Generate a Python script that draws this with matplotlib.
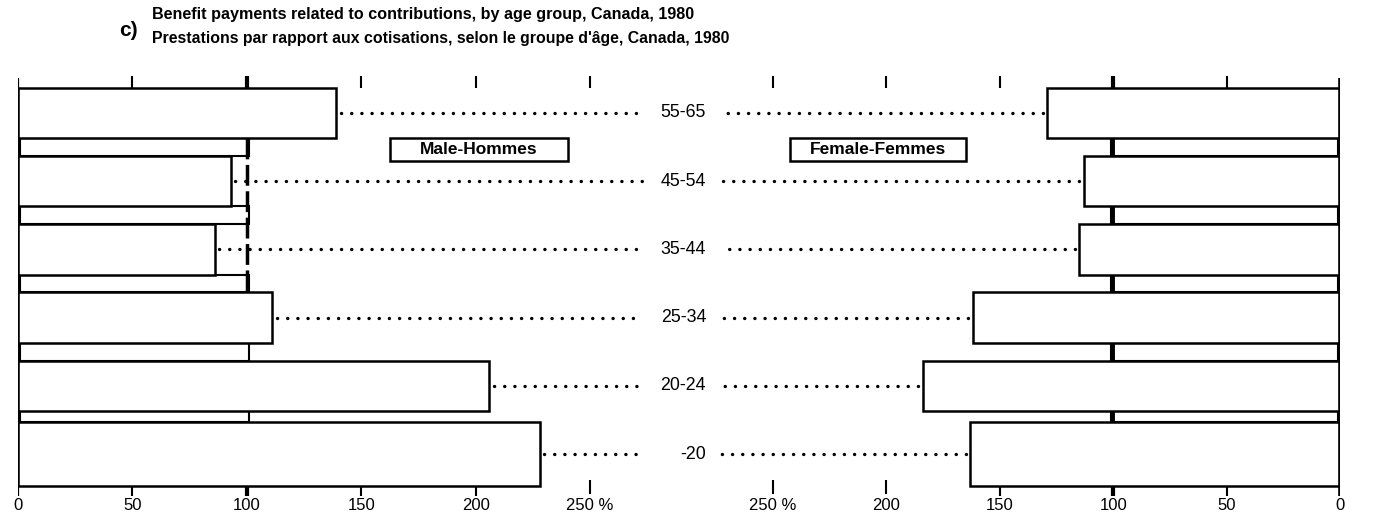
import matplotlib
matplotlib.use('Agg')
import matplotlib.pyplot as plt
from matplotlib.patches import Rectangle
import matplotlib.transforms as mtransforms

# ---- data ----
age_groups = ['55-65', '45-54', '35-44', '25-34', '20-24', '-20']
male = [139, 93, 86, 111, 206, 228]
female = [129, 113, 115, 162, 184, 163]
tick_values = [0, 50, 100, 150, 200, 250]
tick_labels = ['0', '50', '100', '150', '200', '250 %']
reference = 100
title_1 = 'Benefit payments related to contributions, by age group, Canada, 1980'
title_2 = "Prestations par rapport aux cotisations, selon le groupe d'âge, Canada, 1980"
male_label = 'Male-Hommes'
female_label = 'Female-Femmes'

plt.rcParams['font.family'] = ['Liberation Sans', 'DejaVu Sans']

W, H = 1379, 513
fig = plt.figure(figsize=(W / 100, H / 100), dpi=100)

# pixel geometry
top_px, bot_px = 74, 497
slot0, pitch = 113, 68.2
y_top = (top_px - slot0) / pitch
y_bot = (bot_px - slot0) / pitch
XMAX = 275
left_scale = 2.288
right_scale = 2.268

axL = fig.add_axes([18 / W, 1 - bot_px / H, XMAX * left_scale / W, (bot_px - top_px) / H])
r_width = XMAX * right_scale
axR = fig.add_axes([(1340 - r_width) / W, 1 - bot_px / H, r_width / W, (bot_px - top_px) / H])

n = len(age_groups)
ys = list(range(n))
hts = [0.74] * (n - 1) + [0.95]

dot_style = dict(color='black', lw=2.4, linestyle=(0, (0.05, 3.0)), dash_capstyle='round', zorder=1)

for ax, vals, is_left in [(axL, male, True), (axR, female, False)]:
    ax.set_ylim(y_bot, y_top)
    if is_left:
        ax.set_xlim(0, XMAX)
    else:
        ax.set_xlim(XMAX, 0)
    for s in ax.spines.values():
        s.set_visible(False)
    ax.set_yticks([])
    ax.set_xticks(tick_values, tick_labels)
    ax.tick_params(axis='x', length=0, pad=1, labelsize=12)

    # main bars
    ax.barh(ys, vals, height=hts, left=0, color='white', edgecolor='black', linewidth=1.8, zorder=3)
    # gap (reference) rectangles
    for i in range(n - 1):
        t = ys[i] + hts[i] / 2
        b = ys[i + 1] - hts[i + 1] / 2
        ax.barh((t + b) / 2, reference, height=(b - t), left=0.8, color='white',
                edgecolor='black', linewidth=1.5, zorder=2)
    # dotted leaders
    for i, v in enumerate(vals):
        ax.plot([v + 2, 273], [ys[i], ys[i]], **dot_style)

    # top ticks
    top_edge = ys[0] - hts[0] / 2
    for v in tick_values[1:]:
        lw = 3 if v == reference else 1.5
        ax.vlines(v, y_top + 0.03, top_edge, color='black', lw=lw, zorder=4)
    # bottom ticks
    bot_edge = ys[-1] + hts[-1] / 2
    for v in tick_values[1:]:
        lw = 3 if v == reference else 1.5
        if v > max(vals):
            ax.vlines(v, bot_edge - 0.1, y_bot - 0.04, color='black', lw=lw, zorder=4)
        else:
            ax.vlines(v, bot_edge, y_bot - 0.02, color='black', lw=lw, zorder=4)
    # zero axis
    ax.vlines(0, y_top + 0.06, y_bot - 0.02, color='black', lw=1.6 if is_left else 2.6, zorder=5)

# reference line at 100
axL.vlines(reference, ys[0] + hts[0] / 2, ys[3] - hts[3] / 2, color='black', lw=2.5,
           linestyles=[(0, (6, 1.6))], zorder=4)
axR.vlines(reference, ys[0] + hts[0] / 2, ys[-1] - hts[-1] / 2, color='black', lw=2.8, zorder=2.5)

# age group labels in the middle
trans = mtransforms.blended_transform_factory(fig.transFigure, axL.transData)
for i, g in enumerate(age_groups):
    fig.text(706 / W, ys[i], g, transform=trans, ha='right', va='center', fontsize=12.8)

# legend boxes
for (x0, x1, lab) in [(390, 568, male_label), (790, 966, female_label)]:
    fig.add_artist(Rectangle((x0 / W, 1 - 161 / H), (x1 - x0) / W, 23 / H, transform=fig.transFigure,
                             facecolor='white', edgecolor='black', lw=1.8))
    fig.text((x0 + x1) / 2 / W, 1 - 149.5 / H, lab, ha='center', va='center', fontsize=12.5, weight='bold')

# titles
fig.text(152 / W, 1 - 14 / H, title_1, ha='left', va='center', fontsize=11.6, weight='bold')
fig.text(152 / W, 1 - 38 / H, title_2, ha='left', va='center', fontsize=11.4, weight='bold')
fig.text(119 / W, 1 - 30 / H, 'c)', ha='left', va='center', fontsize=15, weight='bold')

fig.savefig('out.png', dpi=100)
